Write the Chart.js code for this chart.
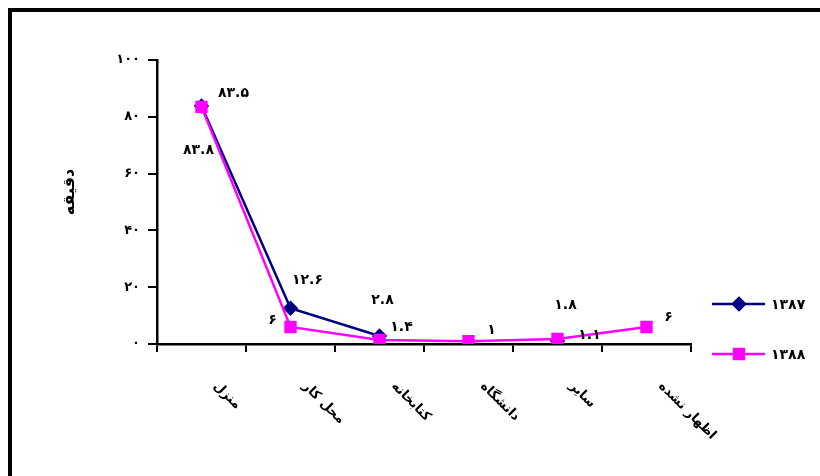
<!DOCTYPE html>
<html>
<head>
<meta charset="utf-8">
<script src="https://cdn.jsdelivr.net/npm/chart.js@4"></script>
<style>
  body { margin: 0; background: #fff; }
  #wrap { position: relative; width: 820px; height: 476px; }
</style>
</head>
<body>
<div id="wrap"><canvas id="myChart" width="820" height="476"></canvas></div>
<script>
// data
const categories = ['منزل', 'محل کار', 'کتابخانه', 'دانشگاه', 'سایر', 'اظهار نشده'];
const seriesNames = ['۱۳۸۷', '۱۳۸۸'];
const values1387 = [83.8, 12.6, 2.8, null, 1.1, null];
const values1388 = [83.5, 6, 1.4, 1, 1.8, 6];
const yTicks = [0, 20, 40, 60, 80, 100];
const yTitle = 'دقیقه';

// label offsets (px from the point), as placed in the original
const labelOffsets = [
    [[-3, 44], [17, -28], [3, -36], null, [32, -6], null],
    [[32, -14], [-18, -7], [22, -13], [23, -11], [8, -34], [22, -10]]
];

const FONT = '"DejaVu Sans", sans-serif';
const faDigits = '۰۱۲۳۴۵۶۷۸۹';
function toFa(v) {
    return String(v).replace(/[0-9]/g, d => faDigits[d]);
}

const extras = {
    id: 'extras',
    beforeDraw(chart) {
        const ctx = chart.ctx;
        ctx.save();
        ctx.fillStyle = '#000';
        ctx.fillRect(8, 8, 812, 4);
        ctx.fillRect(8, 8, 4, 468);
        ctx.restore();
    },
    afterDatasetsDraw(chart) {
        const ctx = chart.ctx;
        const x = chart.scales.x;
        ctx.save();
        // data labels
        ctx.font = 'bold 14px ' + FONT;
        ctx.fillStyle = '#000';
        ctx.textAlign = 'center';
        ctx.textBaseline = 'middle';
        chart.data.datasets.forEach((ds, di) => {
            const meta = chart.getDatasetMeta(di);
            ds.data.forEach((v, i) => {
                if (v === null || !labelOffsets[di][i]) return;
                const p = meta.data[i];
                const o = labelOffsets[di][i];
                ctx.fillText(toFa(v), p.x + o[0], p.y + o[1]);
            });
        });
        // rotated category labels
        ctx.font = 'bold 13px ' + FONT;
        ctx.textAlign = 'left';
        categories.forEach((c, i) => {
            const px = x.getPixelForValue(i);
            ctx.save();
            ctx.translate(px + 14, 384);
            ctx.rotate(Math.PI / 4);
            ctx.fillText(c, 0, 0);
            ctx.restore();
        });
        // y title
        ctx.save();
        ctx.font = 'bold 16px ' + FONT;
        ctx.textAlign = 'center';
        ctx.translate(70, 192);
        ctx.rotate(-Math.PI / 2);
        ctx.fillText(yTitle, 0, 0);
        ctx.restore();
        // legend
        chart.data.datasets.forEach((ds, di) => {
            const ly = 304 + di * 50;
            ctx.strokeStyle = ds.borderColor;
            ctx.lineWidth = 2.5;
            ctx.beginPath();
            ctx.moveTo(712, ly);
            ctx.lineTo(765, ly);
            ctx.stroke();
            ctx.fillStyle = ds.pointBackgroundColor;
            ctx.strokeStyle = ds.pointBorderColor;
            Chart.helpers.drawPoint(ctx, {
                pointStyle: ds.pointStyle,
                radius: ds.pointRadius,
                borderWidth: 1
            }, 739, ly);
            ctx.fillStyle = '#000';
            ctx.font = 'bold 14px ' + FONT;
            ctx.textAlign = 'left';
            ctx.textBaseline = 'middle';
            ctx.fillText(seriesNames[di], 771, ly + 1);
        });
        ctx.restore();
    }
};

new Chart(document.getElementById('myChart'), {
    type: 'line',
    data: {
        labels: categories,
        datasets: [{
            label: seriesNames[0],
            data: values1387,
            order: 1,
            borderColor: '#000080',
            backgroundColor: '#000080',
            pointBackgroundColor: '#000080',
            pointBorderColor: '#000080',
            pointStyle: 'rectRot',
            pointRadius: 6,
            borderWidth: 2.5,
            tension: 0
        }, {
            label: seriesNames[1],
            data: values1388,
            order: 0,
            borderColor: '#FF00FF',
            backgroundColor: '#FF00FF',
            pointBackgroundColor: '#FF00FF',
            pointBorderColor: '#FF00FF',
            pointStyle: 'rect',
            pointRadius: 7,
            borderWidth: 2.5,
            tension: 0
        }]
    },
    options: {
        responsive: false,
        animation: false,
        layout: { padding: { top: 60, right: 129, left: 0, bottom: 0 } },
        plugins: {
            legend: { display: false },
            tooltip: { enabled: false }
        },
        scales: {
            x: {
                offset: true,
                grid: { offset: true, drawOnChartArea: false, color: '#000', lineWidth: 2, tickLength: 8 },
                border: { color: '#000', width: 2.5 },
                ticks: { display: false },
                afterFit(s) { s.height = 132; }
            },
            y: {
                min: 0,
                max: 100,
                afterBuildTicks(s) { s.ticks = yTicks.map(v => ({ value: v })); },
                grid: { drawOnChartArea: false, color: '#000', lineWidth: 2, tickLength: 9 },
                border: { color: '#000', width: 2.5 },
                ticks: {
                    color: '#000',
                    padding: 8,
                    font: { family: FONT, size: 13, weight: 'bold' },
                    callback: v => toFa(v)
                },
                afterFit(s) { s.width = 157; }
            }
        }
    },
    plugins: [extras]
});
</script>
</body>
</html>
